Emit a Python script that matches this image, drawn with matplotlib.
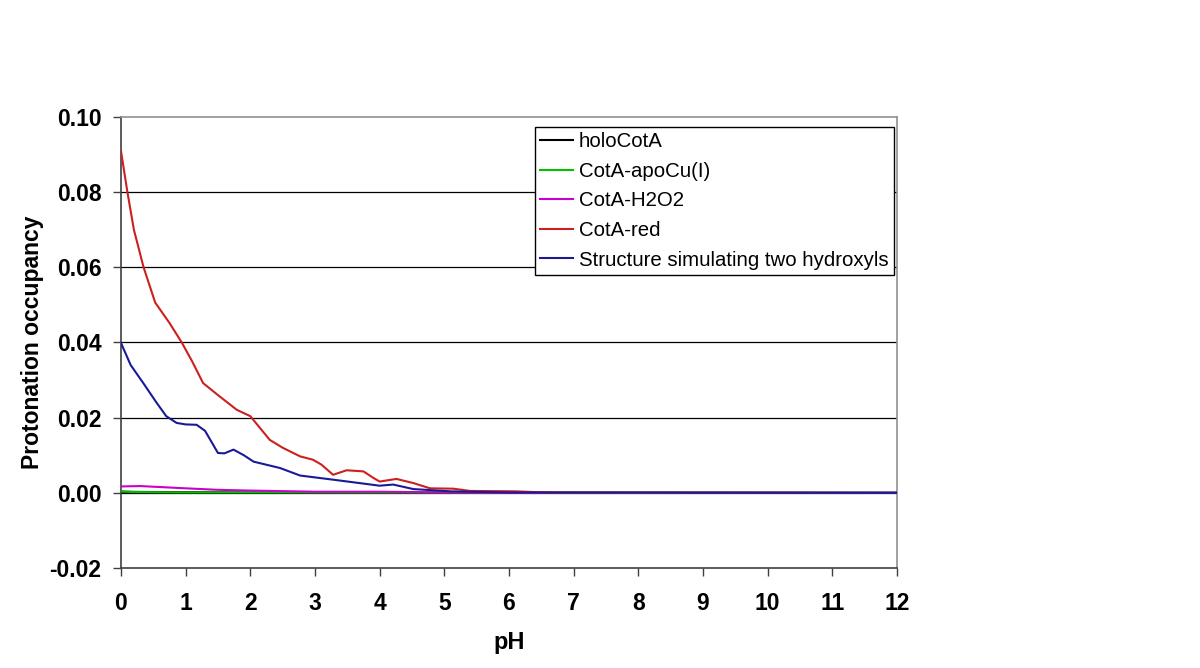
import matplotlib
matplotlib.use("Agg")
import matplotlib.pyplot as plt

plt.rcParams['font.family'] = ['Liberation Sans', 'DejaVu Sans']

# ---- data ----
red_ph = [0, 0.1, 0.2, 0.35, 0.53, 0.75, 0.94, 1.1, 1.27, 1.5, 1.79, 1.9, 2.0,
          2.3, 2.5, 2.77, 2.97, 3.1, 3.28, 3.49, 3.75, 3.9, 4.0, 4.26, 4.52,
          4.78, 5.14, 5.4, 6.1, 6.7, 12]
red_val = [0.091, 0.080, 0.070, 0.060, 0.0506, 0.0452, 0.040, 0.035, 0.0292,
           0.026, 0.0221, 0.0212, 0.0204, 0.0141, 0.012, 0.0097, 0.0088,
           0.0075, 0.0048, 0.0060, 0.0057, 0.0040, 0.0030, 0.0037, 0.0026,
           0.0012, 0.0011, 0.0005, 0.0004, 0.0, 0.0]

blue_ph = [0, 0.15, 0.345, 0.55, 0.70, 0.86, 1.0, 1.17, 1.3, 1.5, 1.6, 1.74,
           1.9, 2.05, 2.46, 2.77, 3.28, 4.0, 4.21, 4.52, 5.09, 6.0, 12]
blue_val = [0.0399, 0.034, 0.0292, 0.024, 0.0204, 0.0186, 0.0182, 0.0181,
            0.0165, 0.0106, 0.0105, 0.0115, 0.0100, 0.0083, 0.0066, 0.0046,
            0.0035, 0.0019, 0.0022, 0.0010, 0.0004, 0.0001, 0.0]

mag_ph = [0, 0.3, 1.0, 1.5, 2.0, 3.0, 4.0, 5.0, 6.0, 12]
mag_val = [0.0017, 0.0018, 0.0012, 0.0008, 0.0006, 0.0003, 0.0003, 0.0001, 0.0, 0.0]

green_ph = [0, 0.2, 1.0, 2.0, 12]
green_val = [0.0004, 0.0002, 0.0001, 0.0001, 0.0]

black_ph = [0, 0.5, 2.0, 12]
black_val = [0.0003, 0.0002, 0.0001, 0.0]

labels = ["holoCotA", "CotA-apoCu(I)", "CotA-H2O2", "CotA-red",
          "Structure simulating two hydroxyls"]
xticks = list(range(0, 13))
yticks = [-0.02, 0.00, 0.02, 0.04, 0.06, 0.08, 0.10]

# ---- figure ----
fig = plt.figure(figsize=(12, 6.68), dpi=100)
ax = fig.add_axes([0.1008, 0.1497, 0.6467, 0.6752])

ax.plot(black_ph, black_val, color='black', lw=1.5, label=labels[0], zorder=3)
ax.plot(green_ph, green_val, color='#00c000', lw=1.5, label=labels[1], zorder=3)
ax.plot(mag_ph, mag_val, color='#cc00cc', lw=1.5, label=labels[2], zorder=3)
ax.plot(red_ph, red_val, color='#cc2020', lw=1.5, label=labels[3], zorder=3)
ax.plot(blue_ph, blue_val, color='#1a1a99', lw=1.5, label=labels[4], zorder=3)

ax.set_xlim(0, 12)
ax.set_ylim(-0.02, 0.10)
ax.set_xticks(xticks)
ax.set_yticks(yticks)
ax.set_xticklabels([str(t) for t in xticks])
ax.set_yticklabels([f"{t:.2f}" for t in yticks])
ax.tick_params(axis='both', direction='out', length=6, width=1,
               color='#404040', labelsize=16.5)
ax.tick_params(axis='x', pad=11)
ax.tick_params(axis='y', pad=8)
for lab in ax.get_xticklabels() + ax.get_yticklabels():
    lab.set_fontweight('bold')

for y in [0.0, 0.02, 0.04, 0.06, 0.08]:
    ax.axhline(y, color='black', lw=0.9, zorder=1)

for s in ['left', 'bottom']:
    ax.spines[s].set_color('#404040')
    ax.spines[s].set_linewidth(1.2)
for s in ['top', 'right']:
    ax.spines[s].set_color('#909090')
    ax.spines[s].set_linewidth(1.2)

ax.set_xlabel("pH", fontsize=17, fontweight='bold', labelpad=12)
ax.set_ylabel("Protonation occupancy", fontsize=16.5, fontweight='bold', labelpad=4)

leg = fig.legend(loc='upper left', bbox_to_anchor=(535 / 1200, (668 - 127) / 668),
                 fontsize=14.7, frameon=True, fancybox=False, shadow=False,
                 handlelength=1.6, handletextpad=0.3, borderpad=0.25,
                 labelspacing=0.52, borderaxespad=0)
leg.get_frame().set_edgecolor('black')
leg.get_frame().set_linewidth(1.0)
leg.get_frame().set_alpha(1)

fig.savefig("out.png", dpi=100, facecolor='white')
